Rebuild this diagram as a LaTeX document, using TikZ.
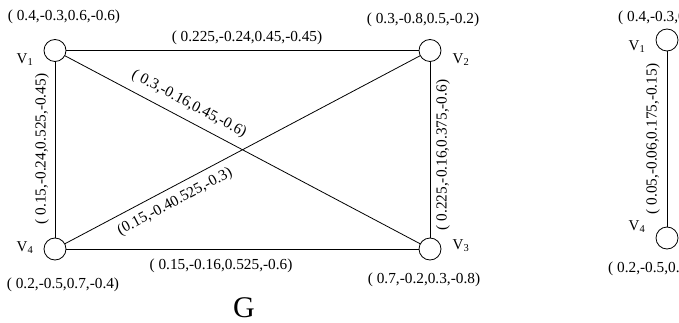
\documentclass[tikz,border=0pt]{standalone}
\usepackage{fontspec}
\setmainfont{Liberation Serif}
\begin{document}
\begin{tikzpicture}[x=1pt,y=-1pt,
  vtx/.style={circle,draw,line width=0.8pt,minimum size=22pt,inner sep=0pt,fill=white},
  lbl/.style={font=\fontsize{15.3}{18}\selectfont,inner sep=0pt},
  vname/.style={font=\fontsize{15}{18}\selectfont,inner sep=0pt},
  conn/.style={line width=0.8pt}]
\useasboundingbox (0,0) rectangle (679,323);
\clip (0,0) rectangle (679,323);
% graph G
\node[vtx] (v1) at (55,50.5) {};
\node[vtx] (v2) at (430,50.5) {};
\node[vtx] (v3) at (430,249) {};
\node[vtx] (v4) at (55,249) {};
\draw[conn] (v1) -- (v2);
\draw[conn] (v1) -- (v4);
\draw[conn] (v2) -- (v3);
\draw[conn] (v4) -- (v3);
\draw[conn] (v1) -- (v3);
\draw[conn] (v4) -- (v2);
\node[vname] (n1) at (25,60) {V\textsubscript{1}};
\node[vname] (n2) at (461,60) {V\textsubscript{2}};
\node[vname] (n3) at (461,246) {V\textsubscript{3}};
\node[vname] (n4) at (25,248) {V\textsubscript{4}};
\node[lbl] (t1) at (64,17) {( 0.4,-0.3,0.6,-0.6)};
\node[lbl] (t2) at (423,20) {( 0.3,-0.8,0.5,-0.2)};
\node[lbl] (t3) at (424,280) {( 0.7,-0.2,0.3,-0.8)};
\node[lbl] (t4) at (63,285) {( 0.2,-0.5,0.7,-0.4)};
\node[lbl] (e12) at (247,38) {( 0.225,-0.24,0.45,-0.45)};
\node[lbl] (e43) at (221,266) {( 0.15,-0.16,0.525,-0.6)};
\node[lbl,rotate=90] (e14) at (42,149) {( 0.15,-0.24,0.525,-0.45)};
\node[lbl,rotate=90] (e23) at (443,155) {( 0.225,-0.16,0.375,-0.6)};
\node[lbl,rotate=-28] (e13) at (189,104) {( 0.3,-0.16,0.45,-0.6)};
\node[lbl,rotate=28] (e42) at (175,202) {(0.15,-0.40.525,-0.3)};
\node[font=\fontsize{30}{34}\selectfont,inner sep=0pt] (g) at (244,308) {G};
% second graph (cut off)
\node[vtx] (w1) at (667,40) {};
\node[vtx] (w4) at (667,238) {};
\draw[conn] (w1) -- (w4);
\node[vname] (m1) at (637,47) {V\textsubscript{1}};
\node[vname] (m4) at (637,227) {V\textsubscript{4}};
\node[lbl,anchor=west] (s1) at (618,18) {( 0.4,-0.3,0.6,-0.6)};
\node[lbl,anchor=west] (s4) at (608,269) {( 0.2,-0.5,0.7,-0.4)};
\node[lbl,rotate=90] (f14) at (653,139) {( 0.05,-0.06,0.175,-0.15)};
\end{tikzpicture}
\end{document}
